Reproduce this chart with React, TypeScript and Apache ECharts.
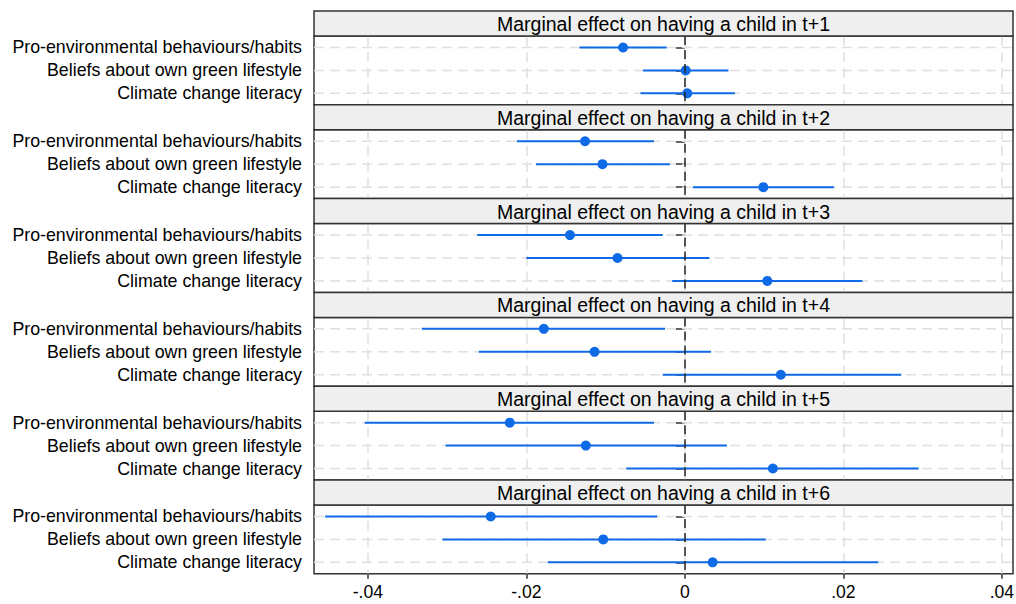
import React, { useEffect, useRef } from 'react';
import * as echarts from 'echarts';

const categories = [
  'Pro-environmental behaviours/habits',
  'Beliefs about own green lifestyle',
  'Climate change literacy',
];
const horizons = ['t+1', 't+2', 't+3', 't+4', 't+5', 't+6'];

// point estimates and 95% CI bounds, one value per horizon (t+1 ... t+6)
const proEst = [-0.0078, -0.0126, -0.0145, -0.0178, -0.0221, -0.0245];
const proLow = [-0.0133, -0.0212, -0.0262, -0.0332, -0.0404, -0.0454];
const proHigh = [-0.0023, -0.0039, -0.0028, -0.0025, -0.0039, -0.0035];

const beliefEst = [0.0001, -0.0104, -0.0085, -0.0114, -0.0125, -0.0103];
const beliefLow = [-0.0053, -0.0188, -0.0200, -0.0260, -0.0302, -0.0306];
const beliefHigh = [0.0055, -0.0019, 0.0031, 0.0033, 0.0053, 0.0102];

const climateEst = [0.0003, 0.0099, 0.0104, 0.0121, 0.0111, 0.0035];
const climateLow = [-0.0056, 0.0010, -0.0016, -0.0028, -0.0074, -0.0173];
const climateHigh = [0.0063, 0.0188, 0.0224, 0.0273, 0.0295, 0.0244];

const xTicks = [-0.04, -0.02, 0, 0.02, 0.04];
const xMin = -0.0468;
const xMax = 0.0414;

const W = 1016;
const H = 604;
const LEFT = 314;
const RIGHT = 3;
const TOP0 = 11;
const PERIOD = 93.8;
const HEADER = 25;
const BLUE = '#0f6ae6';
const GRIDCOL = '#e0e0e0';
const FONT = '"Liberation Sans", Arial, Helvetica, sans-serif';

function fmt(v: number): string {
  const q = v / 0.02;
  if (Math.abs(q - Math.round(q)) > 1e-6) return '';
  if (Math.abs(v) < 1e-9) return '0';
  const s = Math.abs(v).toFixed(2).replace(/^0/, '');
  return (v < 0 ? '-' : '') + s;
}

export default function App() {
  const ref = useRef<HTMLDivElement>(null);
  useEffect(() => {
    if (!ref.current) return;
    const chart = echarts.init(ref.current, null, { renderer: 'svg' });
    const grids: any[] = [];
    const xAxes: any[] = [];
    const yAxes: any[] = [];
    const series: any[] = [];
    const graphics: any[] = [];
    const plotW = W - LEFT - RIGHT;
    const ests = [proEst, beliefEst, climateEst];
    const lows = [proLow, beliefLow, climateLow];
    const highs = [proHigh, beliefHigh, climateHigh];

    horizons.forEach((h, k) => {
      const top = TOP0 + PERIOD * k;
      const isLast = k === horizons.length - 1;
      grids.push({
        left: LEFT,
        right: RIGHT,
        top: top + HEADER,
        height: PERIOD - HEADER,
        show: true,
        borderColor: '#333',
        borderWidth: 1.5,
        backgroundColor: '#fff',
        containLabel: false,
        outerBoundsMode: 'none',
      });
      xAxes.push({
        type: 'value',
        gridIndex: k,
        min: xMin,
        max: xMax,
        axisLine: { show: false },
        axisTick: {
          show: isLast,
          length: 5,
          customValues: xTicks,
          lineStyle: { color: '#333', width: 1.5 },
        },
        axisLabel: {
          show: isLast,
          customValues: xTicks,
          formatter: fmt,
          fontSize: 17.6,
          fontFamily: FONT,
          color: '#000',
          margin: 9,
        },
        splitLine: {
          show: true,
          lineStyle: { color: GRIDCOL, width: 1.5, type: [10, 6] },
        },
      });
      yAxes.push({
        type: 'category',
        gridIndex: k,
        data: categories,
        inverse: true,
        axisLine: { show: false },
        axisTick: {
          show: true,
          alignWithLabel: true,
          interval: 0,
          length: 9,
          lineStyle: { color: '#333', width: 1.5 },
        },
        axisLabel: {
          interval: 0,
          fontSize: 17.8,
          fontFamily: FONT,
          color: '#000',
          margin: 12,
        },
        splitLine: { show: false },
      });
      series.push({
        type: 'custom',
        xAxisIndex: k,
        yAxisIndex: k,
        z: 1,
        silent: true,
        data: categories.map((_, i) => [0, i]),
        encode: { x: 0, y: 1 },
        renderItem: (params: any, api: any) => {
          const cs = params.coordSys;
          const p = api.coord([0, api.value(1)]);
          return {
            type: 'line',
            shape: { x1: cs.x, y1: p[1], x2: cs.x + cs.width, y2: p[1] },
            style: { stroke: GRIDCOL, lineWidth: 1.5, lineDash: [10, 6] },
          };
        },
        markLine: {
          silent: true,
          symbol: ['none', 'none'],
          label: { show: false },
          lineStyle: { color: '#222', width: 1.5, type: [9, 5] },
          data: [{ xAxis: 0 }],
        },
      });
      series.push({
        type: 'custom',
        xAxisIndex: k,
        yAxisIndex: k,
        z: 3,
        silent: true,
        data: categories.map((_, i) => [lows[i][k], highs[i][k], i]),
        encode: { x: [0, 1], y: 2 },
        renderItem: (params: any, api: any) => {
          const y = api.value(2);
          const p1 = api.coord([api.value(0), y]);
          const p2 = api.coord([api.value(1), y]);
          return {
            type: 'line',
            shape: { x1: p1[0], y1: p1[1], x2: p2[0], y2: p2[1] },
            style: { stroke: BLUE, lineWidth: 2 },
          };
        },
      });
      series.push({
        type: 'scatter',
        xAxisIndex: k,
        yAxisIndex: k,
        z: 4,
        symbol: 'circle',
        symbolSize: 10,
        itemStyle: { color: BLUE, opacity: 1 },
        data: categories.map((_, i) => [ests[i][k], i]),
      });
      graphics.push({
        type: 'rect',
        z: 10,
        shape: { x: LEFT, y: top, width: plotW, height: HEADER },
        style: { fill: '#efefef', stroke: '#333', lineWidth: 1.5 },
      });
      graphics.push({
        type: 'text',
        z: 11,
        x: LEFT + plotW / 2,
        y: top + HEADER / 2 + 0.5,
        style: {
          text: 'Marginal effect on having a child in ' + h,
          fontSize: 19.5,
          fontFamily: FONT,
          fill: '#000',
          align: 'center',
          verticalAlign: 'middle',
        },
      });
    });

    chart.setOption({
      animation: false,
      backgroundColor: '#fff',
      grid: grids,
      xAxis: xAxes,
      yAxis: yAxes,
      series,
      graphic: graphics,
    });
    return () => chart.dispose();
  }, []);
  return (
    <div
      ref={ref}
      style={{ position: 'fixed', left: 0, top: 0, width: W, height: H }}
    />
  );
}
